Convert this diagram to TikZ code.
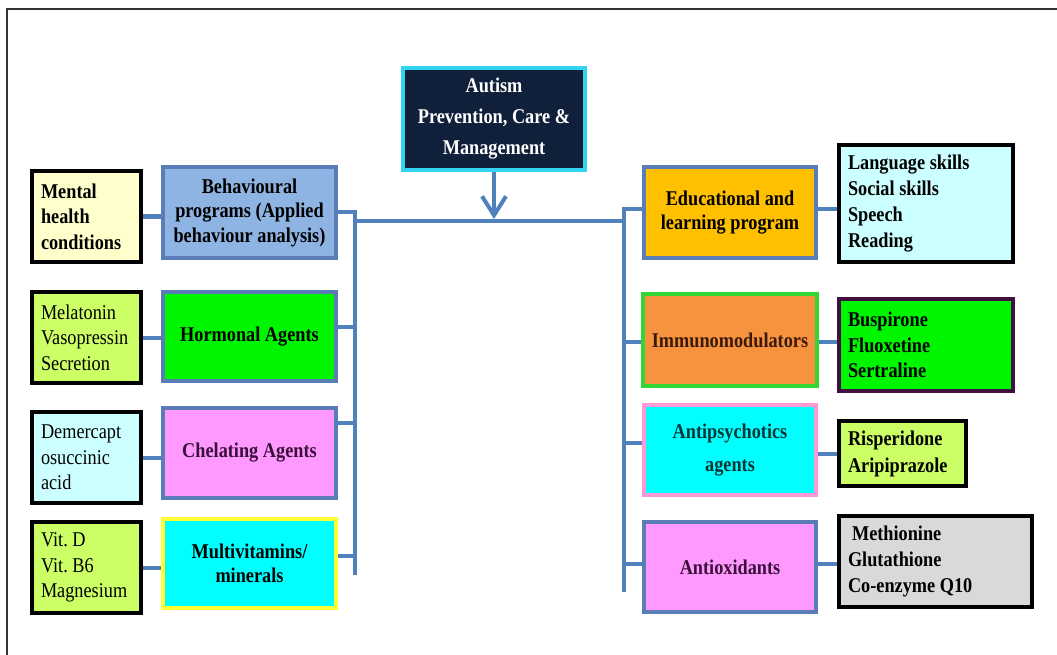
\documentclass[tikz,border=0pt]{standalone}
\usepackage{fontspec}
\setmainfont{Liberation Serif}[FakeStretch=0.87]
\usetikzlibrary{arrows.meta}
\newcommand\myfs[2]{\fontsize{#1}{#2}\selectfont\frenchspacing\spaceskip=0.22em\relax}
\definecolor{connblue}{HTML}{4F81BD}
\definecolor{boxblue}{HTML}{5A7DB8}
\definecolor{navy}{HTML}{10203B}
\definecolor{aqua}{HTML}{33D4F2}
\definecolor{behblue}{HTML}{8EB4E3}
\definecolor{lyellow}{HTML}{FFFFCC}
\definecolor{ygreen}{HTML}{CCFF66}
\definecolor{brgreen}{HTML}{00F500}
\definecolor{lcyan}{HTML}{CCFFFF}
\definecolor{pinkf}{HTML}{FF99FF}
\definecolor{cyanf}{HTML}{00FFFF}
\definecolor{yellowb}{HTML}{FFFF33}
\definecolor{gold}{HTML}{FFC000}
\definecolor{orangef}{HTML}{F7923F}
\definecolor{greenb}{HTML}{33D633}
\definecolor{purpleb}{HTML}{401040}
\definecolor{pinkb}{HTML}{FF99D6}
\definecolor{grayf}{HTML}{D9D9D9}
\definecolor{framegray}{HTML}{333333}
\definecolor{dpurple}{HTML}{3A0F3A}
\definecolor{dbrown}{HTML}{3A1A08}
\definecolor{dteal}{HTML}{0A3535}
\begin{document}
\begin{tikzpicture}[x=1pt,y=-1pt,
  base/.style={rectangle, inner xsep=9pt, inner ysep=0pt, text=black},
  cbox/.style={base, draw=boxblue, line width=4pt, align=flush center,
    font=\myfs{21}{24.5}\bfseries},
  kbox/.style={base, draw=black, line width=4.5pt, align=flush left,
    font=\myfs{21}{25.5}},
  conn/.style={draw=connblue, line width=4pt},
]
\useasboundingbox (0,0) rectangle (1057,655);
\fill[white] (0,0) rectangle (1057,655);
% frame
\draw[framegray, line width=1.5pt] (1057,9) -- (7,9) -- (7,655);

% centre
\node[base, fill=navy, draw=aqua, line width=4pt, align=flush center, text=white,
  font=\myfs{21}{31}\bfseries,
  minimum width=182pt, minimum height=102pt] (aut) at (494,119)
  {Autism\\Prevention, Care \&\\Management};

% left column
\node[cbox, fill=behblue, minimum width=173pt, minimum height=91pt] (beh) at (249.5,212.5)
  {Behavioural\\programs (Applied\\behaviour analysis)};
\node[cbox, fill=brgreen, minimum width=173pt, minimum height=89pt] (horm) at (249.5,336.5)
  {Hormonal Agents};
\node[cbox, fill=pinkf, text=dpurple, minimum width=173pt, minimum height=90pt] (chel) at (249.5,453)
  {Chelating Agents};
\node[cbox, fill=cyanf, draw=yellowb, minimum width=173pt, minimum height=89pt] (multi) at (249.5,563.5)
  {Multivitamins/\\minerals};

\node[kbox, fill=lyellow, font=\myfs{21}{25.5}\bfseries,
  text width=91pt, minimum height=91pt] (mh) at (86.5,216.5)
  {Mental\\health\\conditions};
\node[kbox, fill=ygreen, text width=91pt, minimum height=91pt] (mel) at (86.5,337.5)
  {Melatonin\\Vasopressin\\Secretion};
\node[kbox, fill=lcyan, text width=91pt, minimum height=91pt] (dem) at (86.5,457.5)
  {Demercapt\\osuccinic\\acid};
\node[kbox, fill=ygreen, text width=91pt, minimum height=91pt] (vit) at (86.5,567.5)
  {Vit. D\\Vit. B6\\Magnesium};

% right column
\node[cbox, fill=gold, minimum width=172pt, minimum height=91pt] (edu) at (730,212.5)
  {Educational and\\learning program};
\node[cbox, fill=orangef, draw=greenb, text=dbrown, minimum width=172pt, minimum height=92pt] (imm) at (730,340)
  {Immunomodulators};
\node[cbox, fill=cyanf, draw=pinkb, text=dteal, font=\myfs{21}{33}\bfseries,
  minimum width=172pt, minimum height=90pt] (antip) at (730,450)
  {Antipsychotics\\agents};
\node[cbox, fill=pinkf, text=dpurple, minimum width=172pt, minimum height=90pt] (antiox) at (730,567)
  {Antioxidants};

\node[kbox, fill=lcyan, font=\myfs{21}{26}\bfseries,
  text width=156pt, minimum height=117pt] (lang) at (926,203.5)
  {Language skills\\Social skills\\Speech\\Reading};
\node[kbox, fill=brgreen, draw=purpleb, font=\myfs{21}{25.5}\bfseries,
  text width=156pt, minimum height=92pt] (busp) at (926,345)
  {Buspirone\\Fluoxetine\\Sertraline};
\node[kbox, fill=ygreen, font=\myfs{21}{27}\bfseries,
  text width=109pt, minimum height=65pt] (risp) at (902.5,453.5)
  {Risperidone\\Aripiprazole};
\node[kbox, fill=grayf, font=\myfs{21}{26}\bfseries,
  text width=175pt, minimum height=91pt] (meth) at (935.5,561.5)
  {\hspace*{4pt}Methionine\\Glutathione\\Co-enzyme Q10};

% spine coordinates
\coordinate (lstop) at (355,211);
\coordinate (lsbot) at (355,575);
\coordinate (rstop) at (624,209);
\coordinate (rsbot) at (624,592);
\coordinate (trL) at (355,221);
\coordinate (trR) at (624,221);

% trunk and spines
\draw[conn] (trL) -- (trR);
\draw[conn] (beh.east) -- (beh.east -| lstop) -- (lsbot);
\draw[conn] ([yshift=3.5pt]edu.west) -- ([yshift=3.5pt]edu.west -| rstop) -- (rsbot);
\draw[conn, -{Straight Barb[length=19pt,width=24pt]}] (aut.south) -- ([yshift=2pt]aut.south |- trL);

% left branches
\draw[conn] ([yshift=9.5pt]horm.east) -- ([yshift=9.5pt]horm.east -| lsbot);
\draw[conn] ([yshift=30pt]chel.east) -- ([yshift=30pt]chel.east -| lsbot);
\draw[conn] ([yshift=7.5pt]multi.east) -- ([yshift=7.5pt]multi.east -| lsbot);
% right branches
\draw[conn] ([yshift=-2pt]imm.west) -- ([yshift=-2pt]imm.west -| rsbot);
\draw[conn] ([yshift=7.5pt]antip.west) -- ([yshift=7.5pt]antip.west -| rsbot);
\draw[conn] ([yshift=3pt]antiox.west) -- ([yshift=3pt]antiox.west -| rsbot);

% side links
\draw[conn] (mh.east) -- (mh.east -| beh.west);
\draw[conn] (mel.east) -- (mel.east -| horm.west);
\draw[conn] (dem.east) -- (dem.east -| chel.west);
\draw[conn] (vit.east) -- (vit.east -| multi.west);
\draw[conn] ([yshift=3.5pt]edu.east) -- ([yshift=3.5pt]edu.east -| lang.west);
\draw[conn] ([yshift=-2pt]imm.east) -- ([yshift=-2pt]imm.east -| busp.west);
\draw[conn] (risp.west) -- (risp.west -| antip.east);
\draw[conn] ([yshift=3pt]antiox.east) -- ([yshift=3pt]antiox.east -| meth.west);
\end{tikzpicture}
\end{document}
